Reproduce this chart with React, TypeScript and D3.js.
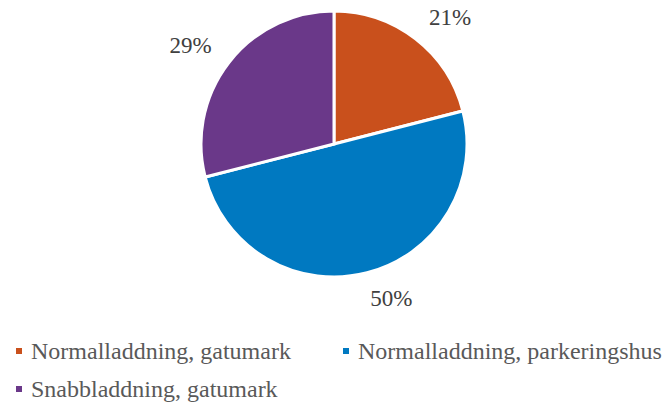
import React from "react";
import * as d3 from "d3";

const categories = [
  "Normalladdning, gatumark",
  "Normalladdning, parkeringshus",
  "Snabbladdning, gatumark",
];
const shares = [21, 50, 29];
const colors = ["#C9501C", "#0079C1", "#6A3889"];

const W = 665;
const H = 408;
const FONT = "Liberation Serif";

export default function App() {
  const cx = 334;
  const cy = 144;
  const r = 133;

  const pie = d3.pie<number>().sort(null).value(d => d);
  const arcs = pie(shares);
  const arc = d3.arc<d3.PieArcDatum<number>>().innerRadius(0).outerRadius(r);
  const labelArc = d3.arc<d3.PieArcDatum<number>>().innerRadius(170).outerRadius(170);

  // small nudges so the labels sit where Excel's best-fit put them
  const nudge = [[12, 7], [15, -11], [-9, 5]];

  const legendX = d3.scaleOrdinal<string, number>().domain(categories).range([16, 343, 16]);
  const legendY = d3.scaleOrdinal<string, number>().domain(categories).range([351, 351, 389]);

  return (
    <svg width={W} height={H} style={{ position: "absolute", left: 0, top: 0 }}>
      <g transform={`translate(${cx},${cy})`}>
        {arcs.map((d, i) => (
          <path key={i} d={arc(d) || ""} fill={colors[i]} stroke="#fff" strokeWidth={3} strokeLinejoin="miter" />
        ))}
        {arcs.map((d, i) => {
          const [x, y] = labelArc.centroid(d);
          return (
            <text
              key={"t" + i}
              x={x + nudge[i][0]}
              y={y + nudge[i][1]}
              dy="0.35em"
              textAnchor="middle"
              fontFamily={FONT}
              fontSize={23}
              fill="#404040"
            >
              {`${d.data}%`}
            </text>
          );
        })}
      </g>
      {categories.map((c, i) => (
        <g key={c} transform={`translate(${legendX(c)},${legendY(c)})`}>
          <rect x={0} y={-3} width={6} height={6} fill={colors[i]} />
          <text x={15} y={0} dy="0.35em" fontFamily={FONT} fontSize={24} fill="#595959">
            {c}
          </text>
        </g>
      ))}
    </svg>
  );
}
